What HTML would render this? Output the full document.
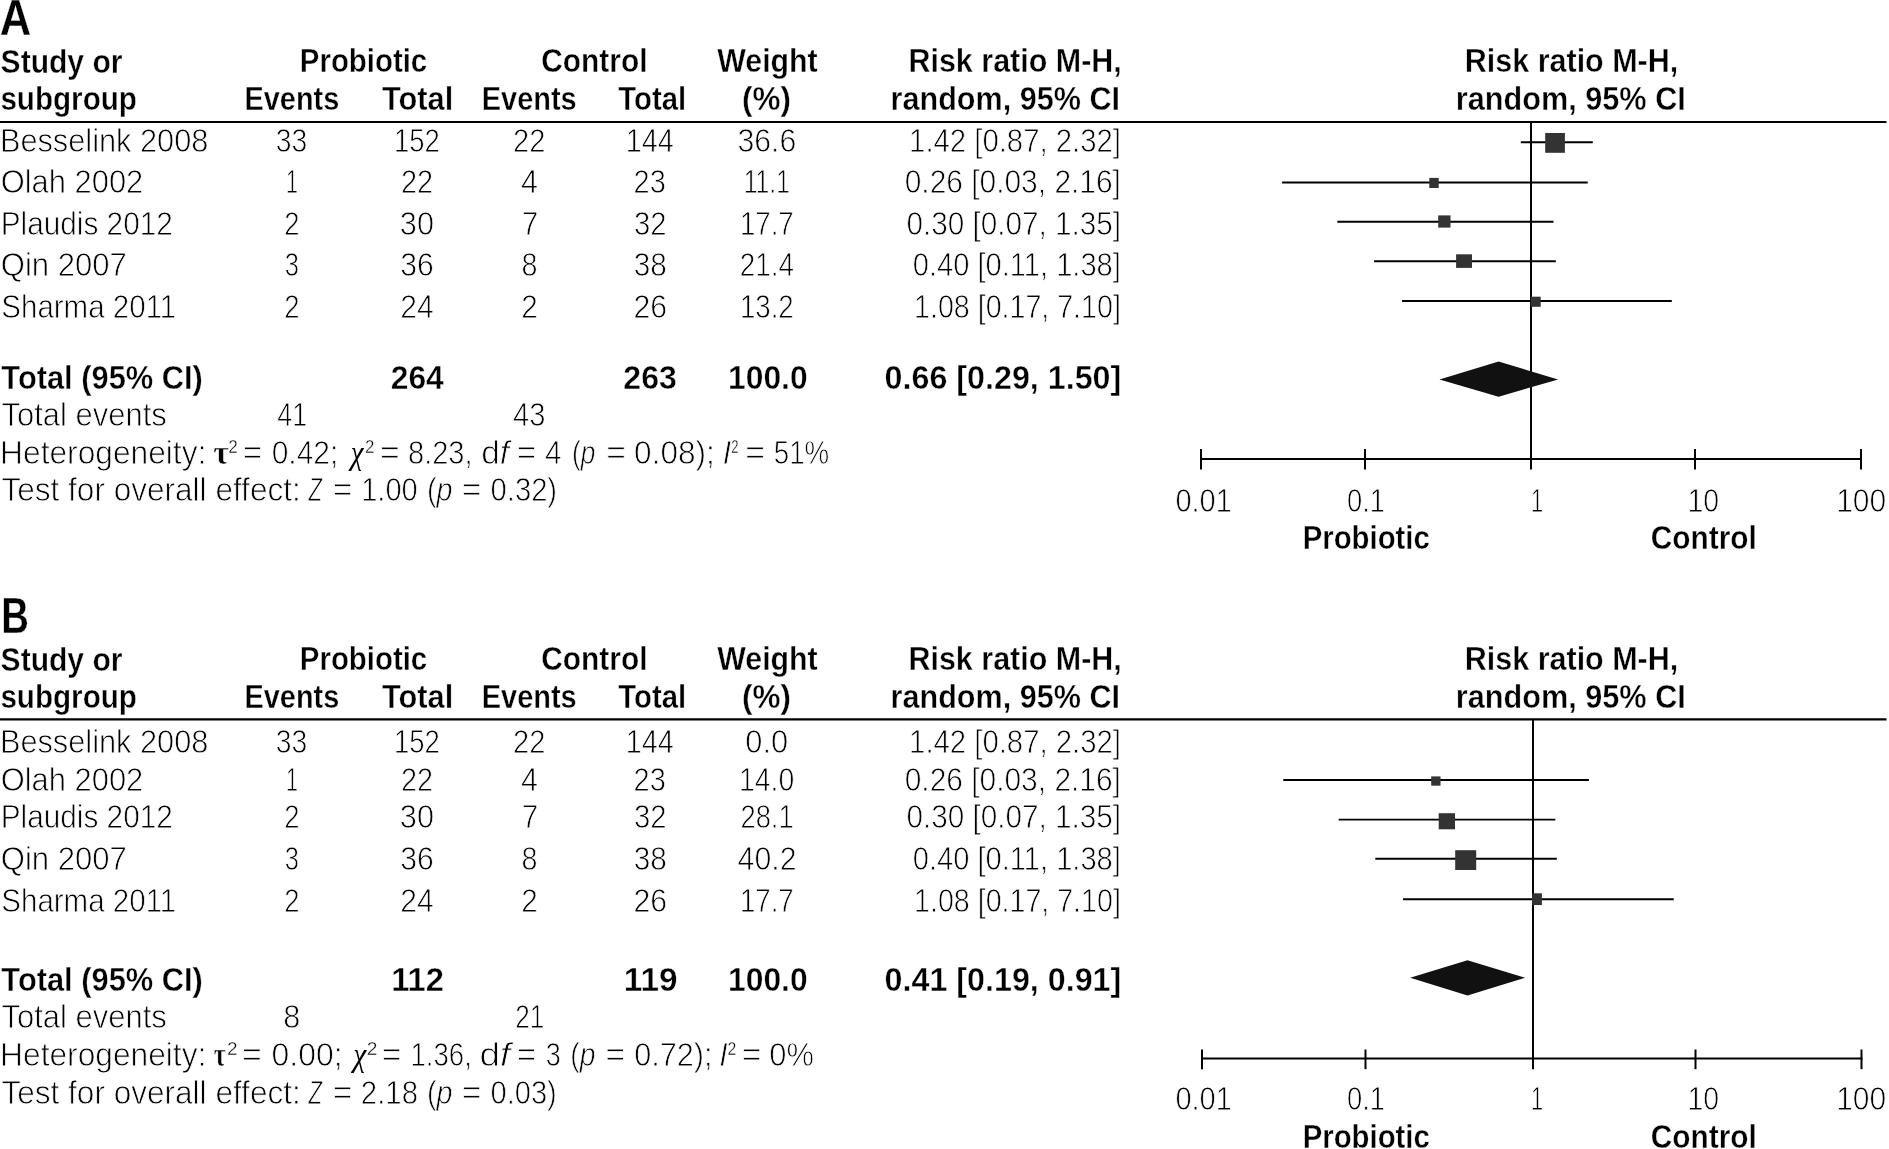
<!DOCTYPE html>
<html lang="en"><head><meta charset="utf-8"><title>Forest plot: Probiotic vs Control</title>
<style>
html,body{margin:0;padding:0;background:#fff;}
body{width:1889px;height:1149px;overflow:hidden;}
svg{display:block;will-change:transform;}
text{fill:#000;stroke:#fff;paint-order:normal;}
.r,.i{stroke-width:0.8px;}
.b{stroke-width:0.4px;}
.sb{stroke-width:0.5px;}
.si{stroke-width:0;}
.big{font-family:"Liberation Sans",Arial,sans-serif;font-weight:700;stroke-width:0.3px;}
.sup{font-family:"Liberation Sans",Arial,sans-serif;font-weight:400;stroke-width:0.35px;}
.r{font-family:"Liberation Sans",Arial,sans-serif;font-weight:400;}
.b{font-family:"Liberation Sans",Arial,sans-serif;font-weight:700;}
.i{font-family:"Liberation Sans",Arial,sans-serif;font-weight:400;font-style:italic;}
.sb{font-family:"Liberation Serif","Times New Roman",serif;font-weight:700;}
.si{font-family:"Liberation Serif","Times New Roman",serif;font-weight:400;font-style:italic;}
</style></head>
<body>
<svg width="1889" height="1149" viewBox="0 0 1889 1149">
<rect width="1889" height="1149" fill="#fff"/>
<line x1="0" y1="122" x2="1886.5" y2="122" stroke="#000" stroke-width="2.1" stroke-linecap="butt"/>
<line x1="1531" y1="123" x2="1531" y2="469.5" stroke="#000" stroke-width="2" stroke-linecap="butt"/>
<line x1="1200" y1="459" x2="1862" y2="459" stroke="#000" stroke-width="2" stroke-linecap="butt"/>
<line x1="1201" y1="449" x2="1201" y2="469.5" stroke="#000" stroke-width="2" stroke-linecap="butt"/>
<line x1="1365" y1="449" x2="1365" y2="469.5" stroke="#000" stroke-width="2" stroke-linecap="butt"/>
<line x1="1695" y1="449" x2="1695" y2="469.5" stroke="#000" stroke-width="2" stroke-linecap="butt"/>
<line x1="1861" y1="449" x2="1861" y2="469.5" stroke="#000" stroke-width="2" stroke-linecap="butt"/>
<line x1="1520.8" y1="142.2" x2="1592.8" y2="142.2" stroke="#000" stroke-width="1.9" stroke-linecap="butt"/>
<rect x="1545.2" y="133.0" width="19.7" height="19.8" fill="#333"/>
<line x1="1282.1" y1="182.5" x2="1587.7" y2="182.5" stroke="#000" stroke-width="1.9" stroke-linecap="butt"/>
<rect x="1429.3" y="177.9" width="9.4" height="10.1" fill="#333"/>
<line x1="1337.3" y1="221.7" x2="1553.5" y2="221.7" stroke="#000" stroke-width="1.9" stroke-linecap="butt"/>
<rect x="1438.2" y="215.4" width="12.3" height="12.2" fill="#333"/>
<line x1="1374.1" y1="261.3" x2="1555.8" y2="261.3" stroke="#000" stroke-width="1.9" stroke-linecap="butt"/>
<rect x="1456.1" y="254.3" width="15.9" height="13.6" fill="#333"/>
<line x1="1402.1" y1="301.0" x2="1671.8" y2="301.0" stroke="#000" stroke-width="1.9" stroke-linecap="butt"/>
<rect x="1530.7" y="296.7" width="10.0" height="10.1" fill="#333"/>
<polygon points="1439.5,379.4 1498.6,361.6 1558.1,379.4 1498.6,396.75" fill="#111"/>
<line x1="0" y1="719.3" x2="1886.5" y2="719.3" stroke="#000" stroke-width="2.3" stroke-linecap="butt"/>
<line x1="1533" y1="720" x2="1533" y2="1069.2" stroke="#000" stroke-width="2" stroke-linecap="butt"/>
<line x1="1201" y1="1058.5" x2="1862.5" y2="1058.5" stroke="#000" stroke-width="2" stroke-linecap="butt"/>
<line x1="1202" y1="1049.5" x2="1202" y2="1069.2" stroke="#000" stroke-width="2" stroke-linecap="butt"/>
<line x1="1365.5" y1="1049.5" x2="1365.5" y2="1069.2" stroke="#000" stroke-width="2" stroke-linecap="butt"/>
<line x1="1695.5" y1="1049.5" x2="1695.5" y2="1069.2" stroke="#000" stroke-width="2" stroke-linecap="butt"/>
<line x1="1861.5" y1="1049.5" x2="1861.5" y2="1069.2" stroke="#000" stroke-width="2" stroke-linecap="butt"/>
<line x1="1283.3" y1="780.0" x2="1588.9" y2="780.0" stroke="#000" stroke-width="1.9" stroke-linecap="butt"/>
<rect x="1431.2" y="776.4" width="9.3" height="9.3" fill="#333"/>
<line x1="1338.7" y1="819.6" x2="1555.4" y2="819.6" stroke="#000" stroke-width="1.9" stroke-linecap="butt"/>
<rect x="1438.7" y="813.2" width="16.3" height="16.1" fill="#333"/>
<line x1="1375.3" y1="858.7" x2="1556.8" y2="858.7" stroke="#000" stroke-width="1.9" stroke-linecap="butt"/>
<rect x="1455.2" y="850.2" width="21.0" height="19.8" fill="#333"/>
<line x1="1403" y1="899.3" x2="1673.7" y2="899.3" stroke="#000" stroke-width="1.9" stroke-linecap="butt"/>
<rect x="1532.1" y="893.3" width="9.8" height="11.7" fill="#333"/>
<polygon points="1410.2,977.7 1467.5,960.2 1525.1,977.7 1467.5,995.5" fill="#111"/>
<text class="big" font-size="50.8" transform="translate(-0.37 35.00) scale(0.8588 1)">A</text>
<text class="b" font-size="33.6" transform="translate(0.61 72.50) scale(0.8942 1)">Study or</text>
<text class="b" font-size="33.6" transform="translate(0.40 109.70) scale(0.8814 1)">subgroup</text>
<text class="b" font-size="33.6" transform="translate(299.83 72.30) scale(0.8752 1)">Probiotic</text>
<text class="b" font-size="33.6" transform="translate(541.27 72.30) scale(0.8892 1)">Control</text>
<text class="b" font-size="33.6" transform="translate(717.30 72.30) scale(0.9018 1)">Weight</text>
<text class="b" font-size="33.6" transform="translate(908.46 72.30) scale(0.9072 1)">Risk ratio M-H,</text>
<text class="b" font-size="33.6" transform="translate(1464.76 72.30) scale(0.9080 1)">Risk ratio M-H,</text>
<text class="b" font-size="33.6" transform="translate(244.57 109.70) scale(0.8592 1)">Events</text>
<text class="b" font-size="33.6" transform="translate(382.04 109.70) scale(0.9164 1)">Total</text>
<text class="b" font-size="33.6" transform="translate(481.76 109.70) scale(0.8610 1)">Events</text>
<text class="b" font-size="33.6" transform="translate(618.36 109.70) scale(0.8722 1)">Total</text>
<text class="b" font-size="33.6" transform="translate(742.06 109.70) scale(0.9354 1)">(%)</text>
<text class="b" font-size="33.6" transform="translate(890.55 109.70) scale(0.9107 1)">random, 95% CI</text>
<text class="b" font-size="33.6" transform="translate(1455.75 109.70) scale(0.9131 1)">random, 95% CI</text>
<text class="r" font-size="33.5" transform="translate(-0.12 151.90) scale(0.9179 1)">Besselink 2008</text>
<text class="r" font-size="33.5" transform="translate(275.85 151.90) scale(0.8435 1)">33</text>
<text class="r" font-size="33.5" transform="translate(393.95 151.90) scale(0.8193 1)">152</text>
<text class="r" font-size="33.5" transform="translate(513.08 151.90) scale(0.8681 1)">22</text>
<text class="r" font-size="33.5" transform="translate(625.86 151.90) scale(0.8571 1)">144</text>
<text class="r" font-size="33.5" transform="translate(737.47 151.90) scale(0.9024 1)">36.6</text>
<text class="r" font-size="33.5" transform="translate(909.11 151.90) scale(0.8750 1)">1.42 [0.87, 2.32]</text>
<text class="r" font-size="33.5" transform="translate(0.72 192.90) scale(0.9221 1)">Olah 2002</text>
<text class="r" font-size="33.5" transform="translate(286.10 192.90) scale(0.6414 1)">1</text>
<text class="r" font-size="33.5" transform="translate(400.89 192.90) scale(0.8622 1)">22</text>
<text class="r" font-size="33.5" transform="translate(521.12 192.90) scale(0.9059 1)">4</text>
<text class="r" font-size="33.5" transform="translate(633.59 192.90) scale(0.8647 1)">23</text>
<text class="r" font-size="33.5" transform="translate(743.65 192.90) scale(0.7385 1)">11.1</text>
<text class="r" font-size="33.5" transform="translate(904.68 192.90) scale(0.8935 1)">0.26 [0.03, 2.16]</text>
<text class="r" font-size="33.5" transform="translate(0.65 234.50) scale(0.8893 1)">Plaudis 2012</text>
<text class="r" font-size="33.5" transform="translate(284.37 234.50) scale(0.8197 1)">2</text>
<text class="r" font-size="33.5" transform="translate(399.86 234.50) scale(0.9151 1)">30</text>
<text class="r" font-size="33.5" transform="translate(521.65 234.50) scale(0.8852 1)">7</text>
<text class="r" font-size="33.5" transform="translate(634.01 234.50) scale(0.8730 1)">32</text>
<text class="r" font-size="33.5" transform="translate(739.94 234.50) scale(0.8246 1)">17.7</text>
<text class="r" font-size="33.5" transform="translate(906.39 234.50) scale(0.8864 1)">0.30 [0.07, 1.35]</text>
<text class="r" font-size="33.5" transform="translate(0.71 276.40) scale(0.9281 1)">Qin 2007</text>
<text class="r" font-size="33.5" transform="translate(284.85 276.40) scale(0.7625 1)">3</text>
<text class="r" font-size="33.5" transform="translate(400.18 276.40) scale(0.8986 1)">36</text>
<text class="r" font-size="33.5" transform="translate(521.41 276.40) scale(0.8571 1)">8</text>
<text class="r" font-size="33.5" transform="translate(633.69 276.40) scale(0.8870 1)">38</text>
<text class="r" font-size="33.5" transform="translate(739.85 276.40) scale(0.8304 1)">21.4</text>
<text class="r" font-size="33.5" transform="translate(912.81 276.40) scale(0.8686 1)">0.40 [0.11, 1.38]</text>
<text class="r" font-size="33.5" transform="translate(1.28 317.80) scale(0.8813 1)">Sharma 2011</text>
<text class="r" font-size="33.5" transform="translate(284.37 317.80) scale(0.8197 1)">2</text>
<text class="r" font-size="33.5" transform="translate(400.33 317.80) scale(0.8957 1)">24</text>
<text class="r" font-size="33.5" transform="translate(521.15 317.80) scale(0.8852 1)">2</text>
<text class="r" font-size="33.5" transform="translate(633.52 317.80) scale(0.9029 1)">26</text>
<text class="r" font-size="33.5" transform="translate(739.94 317.80) scale(0.8246 1)">13.2</text>
<text class="r" font-size="33.5" transform="translate(914.06 317.80) scale(0.8544 1)">1.08 [0.17, 7.10]</text>
<text class="b" font-size="33.6" transform="translate(1.34 388.80) scale(0.9178 1)">Total (95% CI)</text>
<text class="b" font-size="33.6" transform="translate(390.72 388.80) scale(0.9468 1)">264</text>
<text class="b" font-size="33.6" transform="translate(623.31 388.80) scale(0.9551 1)">263</text>
<text class="b" font-size="33.6" transform="translate(728.01 388.80) scale(0.9474 1)">100.0</text>
<text class="b" font-size="33.6" transform="translate(884.60 388.80) scale(0.9603 1)">0.66 [0.29, 1.50]</text>
<text class="r" font-size="33.5" transform="translate(1.51 426.10) scale(0.9245 1)">Total events</text>
<text class="r" font-size="33.5" transform="translate(277.30 426.10) scale(0.8000 1)">41</text>
<text class="r" font-size="33.5" transform="translate(513.05 426.10) scale(0.8686 1)">43</text>
<text class="r" font-size="33.5" transform="translate(0.10 463.80) scale(0.9467 1)">Heterogeneity:</text>
<text class="sb" font-size="33.5" transform="translate(213.24 463.80) scale(1.0175 1)">τ</text>
<text class="sup" font-size="18" transform="translate(228.15 453.00) scale(0.9500 1)">2</text>
<text class="r" font-size="33.5" transform="translate(243.10 463.80) scale(0.9723 1)">=</text>
<text class="r" font-size="33.5" transform="translate(271.68 463.80) scale(0.8954 1)">0.42;</text>
<text class="si" font-size="33.5" transform="translate(350.87 463.80) scale(0.8603 1)">χ</text>
<text class="sup" font-size="18" transform="translate(365.06 453.00) scale(0.9375 1)">2</text>
<text class="r" font-size="33.5" transform="translate(379.94 463.80) scale(1.0031 1)">=</text>
<text class="r" font-size="33.5" transform="translate(408.00 463.80) scale(0.8657 1)">8.23,</text>
<text class="r" font-size="33.5" transform="translate(481.21 463.80) scale(0.9949 1)">d<tspan font-style="italic">f</tspan></text>
<text class="r" font-size="33.5" transform="translate(517.10 463.80) scale(0.9723 1)">=</text>
<text class="r" font-size="33.5" transform="translate(544.93 463.80) scale(0.8882 1)">4</text>
<text class="r" font-size="33.5" transform="translate(571.93 463.80) scale(0.7850 1)">(<tspan font-style="italic">p</tspan></text>
<text class="r" font-size="33.5" transform="translate(606.24 463.80) scale(1.0031 1)">=</text>
<text class="r" font-size="33.5" transform="translate(634.12 463.80) scale(0.9423 1)">0.08);</text>
<text class="i" font-size="33.5" transform="translate(722.67 463.80) scale(0.9032 1)">I</text>
<text class="sup" font-size="18" transform="translate(731.27 453.00) scale(0.7250 1)">2</text>
<text class="r" font-size="33.5" transform="translate(745.23 463.80) scale(1.0092 1)">=</text>
<text class="r" font-size="33.5" transform="translate(773.76 463.80) scale(0.8265 1)">51%</text>
<text class="r" font-size="33.5" transform="translate(1.49 501.20) scale(0.9420 1)">Test for overall effect:</text>
<text class="i" font-size="33.5" transform="translate(308.59 501.20) scale(0.6591 1)">Z</text>
<text class="r" font-size="33.5" transform="translate(332.74 501.20) scale(1.0031 1)">=</text>
<text class="r" font-size="33.5" transform="translate(361.23 501.20) scale(0.8667 1)">1.00</text>
<text class="r" font-size="33.5" transform="translate(426.88 501.20) scale(0.8598 1)">(<tspan font-style="italic">p</tspan></text>
<text class="r" font-size="33.5" transform="translate(461.64 501.20) scale(1.0031 1)">=</text>
<text class="r" font-size="33.5" transform="translate(490.51 501.20) scale(0.8726 1)">0.32)</text>
<text class="r" font-size="33.3" transform="translate(1175.41 511.50) scale(0.8710 1)">0.01</text>
<text class="r" font-size="33.3" transform="translate(1346.97 511.50) scale(0.8230 1)">0.1</text>
<text class="r" font-size="33.3" transform="translate(1531.06 511.50) scale(0.6552 1)">1</text>
<text class="r" font-size="33.3" transform="translate(1687.56 511.50) scale(0.8541 1)">10</text>
<text class="r" font-size="33.3" transform="translate(1836.15 511.50) scale(0.9005 1)">100</text>
<text class="b" font-size="33.6" transform="translate(1302.63 549.20) scale(0.8738 1)">Probiotic</text>
<text class="b" font-size="33.6" transform="translate(1650.67 549.20) scale(0.8892 1)">Control</text>
<text class="big" font-size="50.8" transform="translate(1.36 632.90) scale(0.7545 1)">B</text>
<text class="b" font-size="33.6" transform="translate(0.61 670.50) scale(0.8942 1)">Study or</text>
<text class="b" font-size="33.6" transform="translate(0.40 707.70) scale(0.8814 1)">subgroup</text>
<text class="b" font-size="33.6" transform="translate(299.83 670.30) scale(0.8752 1)">Probiotic</text>
<text class="b" font-size="33.6" transform="translate(541.27 670.30) scale(0.8892 1)">Control</text>
<text class="b" font-size="33.6" transform="translate(717.30 670.30) scale(0.9018 1)">Weight</text>
<text class="b" font-size="33.6" transform="translate(908.46 670.30) scale(0.9072 1)">Risk ratio M-H,</text>
<text class="b" font-size="33.6" transform="translate(1464.76 670.30) scale(0.9080 1)">Risk ratio M-H,</text>
<text class="b" font-size="33.6" transform="translate(244.57 707.70) scale(0.8592 1)">Events</text>
<text class="b" font-size="33.6" transform="translate(382.04 707.70) scale(0.9164 1)">Total</text>
<text class="b" font-size="33.6" transform="translate(481.76 707.70) scale(0.8610 1)">Events</text>
<text class="b" font-size="33.6" transform="translate(618.36 707.70) scale(0.8722 1)">Total</text>
<text class="b" font-size="33.6" transform="translate(742.06 707.70) scale(0.9354 1)">(%)</text>
<text class="b" font-size="33.6" transform="translate(890.55 707.70) scale(0.9107 1)">random, 95% CI</text>
<text class="b" font-size="33.6" transform="translate(1455.75 707.70) scale(0.9131 1)">random, 95% CI</text>
<text class="r" font-size="33.5" transform="translate(-0.12 753.40) scale(0.9179 1)">Besselink 2008</text>
<text class="r" font-size="33.5" transform="translate(275.85 753.40) scale(0.8435 1)">33</text>
<text class="r" font-size="33.5" transform="translate(393.95 753.40) scale(0.8193 1)">152</text>
<text class="r" font-size="33.5" transform="translate(513.08 753.40) scale(0.8681 1)">22</text>
<text class="r" font-size="33.5" transform="translate(625.86 753.40) scale(0.8571 1)">144</text>
<text class="r" font-size="33.5" transform="translate(745.25 753.40) scale(0.9205 1)">0.0</text>
<text class="r" font-size="33.5" transform="translate(909.11 753.40) scale(0.8750 1)">1.42 [0.87, 2.32]</text>
<text class="r" font-size="33.5" transform="translate(0.72 791.10) scale(0.9221 1)">Olah 2002</text>
<text class="r" font-size="33.5" transform="translate(286.10 791.10) scale(0.6414 1)">1</text>
<text class="r" font-size="33.5" transform="translate(400.89 791.10) scale(0.8622 1)">22</text>
<text class="r" font-size="33.5" transform="translate(521.12 791.10) scale(0.9059 1)">4</text>
<text class="r" font-size="33.5" transform="translate(633.59 791.10) scale(0.8647 1)">23</text>
<text class="r" font-size="33.5" transform="translate(738.88 791.10) scale(0.8488 1)">14.0</text>
<text class="r" font-size="33.5" transform="translate(904.68 791.10) scale(0.8935 1)">0.26 [0.03, 2.16]</text>
<text class="r" font-size="33.5" transform="translate(0.65 828.30) scale(0.8893 1)">Plaudis 2012</text>
<text class="r" font-size="33.5" transform="translate(284.37 828.30) scale(0.8197 1)">2</text>
<text class="r" font-size="33.5" transform="translate(399.86 828.30) scale(0.9151 1)">30</text>
<text class="r" font-size="33.5" transform="translate(521.65 828.30) scale(0.8852 1)">7</text>
<text class="r" font-size="33.5" transform="translate(634.01 828.30) scale(0.8730 1)">32</text>
<text class="r" font-size="33.5" transform="translate(740.47 828.30) scale(0.8162 1)">28.1</text>
<text class="r" font-size="33.5" transform="translate(906.39 828.30) scale(0.8864 1)">0.30 [0.07, 1.35]</text>
<text class="r" font-size="33.5" transform="translate(0.71 870.00) scale(0.9281 1)">Qin 2007</text>
<text class="r" font-size="33.5" transform="translate(284.85 870.00) scale(0.7625 1)">3</text>
<text class="r" font-size="33.5" transform="translate(400.18 870.00) scale(0.8986 1)">36</text>
<text class="r" font-size="33.5" transform="translate(521.41 870.00) scale(0.8571 1)">8</text>
<text class="r" font-size="33.5" transform="translate(633.69 870.00) scale(0.8870 1)">38</text>
<text class="r" font-size="33.5" transform="translate(737.62 870.00) scale(0.9036 1)">40.2</text>
<text class="r" font-size="33.5" transform="translate(912.81 870.00) scale(0.8686 1)">0.40 [0.11, 1.38]</text>
<text class="r" font-size="33.5" transform="translate(1.28 911.80) scale(0.8813 1)">Sharma 2011</text>
<text class="r" font-size="33.5" transform="translate(284.37 911.80) scale(0.8197 1)">2</text>
<text class="r" font-size="33.5" transform="translate(400.33 911.80) scale(0.8957 1)">24</text>
<text class="r" font-size="33.5" transform="translate(521.15 911.80) scale(0.8852 1)">2</text>
<text class="r" font-size="33.5" transform="translate(633.52 911.80) scale(0.9029 1)">26</text>
<text class="r" font-size="33.5" transform="translate(739.94 911.80) scale(0.8246 1)">17.7</text>
<text class="r" font-size="33.5" transform="translate(914.06 911.80) scale(0.8544 1)">1.08 [0.17, 7.10]</text>
<text class="b" font-size="33.6" transform="translate(1.34 991.30) scale(0.9178 1)">Total (95% CI)</text>
<text class="b" font-size="33.6" transform="translate(391.15 991.30) scale(0.9754 1)">112</text>
<text class="b" font-size="33.6" transform="translate(623.72 991.30) scale(0.9922 1)">119</text>
<text class="b" font-size="33.6" transform="translate(728.01 991.30) scale(0.9474 1)">100.0</text>
<text class="b" font-size="33.6" transform="translate(884.60 991.30) scale(0.9603 1)">0.41 [0.19, 0.91]</text>
<text class="r" font-size="33.5" transform="translate(1.51 1028.30) scale(0.9245 1)">Total events</text>
<text class="r" font-size="33.5" transform="translate(283.23 1028.30) scale(0.9143 1)">8</text>
<text class="r" font-size="33.5" transform="translate(515.24 1028.30) scale(0.7793 1)">21</text>
<text class="r" font-size="33.5" transform="translate(0.10 1066.10) scale(0.9467 1)">Heterogeneity:</text>
<text class="sb" font-size="33.5" transform="translate(213.82 1066.10) scale(0.7719 1)">τ</text>
<text class="sup" font-size="18" transform="translate(226.95 1055.30) scale(1.0500 1)">2</text>
<text class="r" font-size="33.5" transform="translate(241.93 1066.10) scale(1.0092 1)">=</text>
<text class="r" font-size="33.5" transform="translate(271.61 1066.10) scale(0.9537 1)">0.00;</text>
<text class="si" font-size="33.5" transform="translate(353.23 1066.10) scale(0.8822 1)">χ</text>
<text class="sup" font-size="18" transform="translate(366.64 1055.30) scale(1.0625 1)">2</text>
<text class="r" font-size="33.5" transform="translate(382.07 1066.10) scale(0.9908 1)">=</text>
<text class="r" font-size="33.5" transform="translate(410.54 1066.10) scale(0.8232 1)">1.36,</text>
<text class="r" font-size="33.5" transform="translate(479.55 1066.10) scale(1.1009 1)">d<tspan font-style="italic">f</tspan></text>
<text class="r" font-size="33.5" transform="translate(517.10 1066.10) scale(0.9723 1)">=</text>
<text class="r" font-size="33.5" transform="translate(545.69 1066.10) scale(0.8062 1)">3</text>
<text class="r" font-size="33.5" transform="translate(570.21 1066.10) scale(0.8449 1)">(<tspan font-style="italic">p</tspan></text>
<text class="r" font-size="33.5" transform="translate(605.54 1066.10) scale(1.0031 1)">=</text>
<text class="r" font-size="33.5" transform="translate(634.16 1066.10) scale(0.9141 1)">0.72);</text>
<text class="i" font-size="33.5" transform="translate(719.17 1066.10) scale(0.9032 1)">I</text>
<text class="sup" font-size="18" transform="translate(727.52 1055.30) scale(0.8750 1)">2</text>
<text class="r" font-size="33.5" transform="translate(741.84 1066.10) scale(1.0031 1)">=</text>
<text class="r" font-size="33.5" transform="translate(769.25 1066.10) scale(0.9217 1)">0%</text>
<text class="r" font-size="33.5" transform="translate(1.49 1103.50) scale(0.9420 1)">Test for overall effect:</text>
<text class="i" font-size="33.5" transform="translate(308.59 1103.50) scale(0.6591 1)">Z</text>
<text class="r" font-size="33.5" transform="translate(332.74 1103.50) scale(1.0031 1)">=</text>
<text class="r" font-size="33.5" transform="translate(360.87 1103.50) scale(0.8758 1)">2.18</text>
<text class="r" font-size="33.5" transform="translate(426.88 1103.50) scale(0.8598 1)">(<tspan font-style="italic">p</tspan></text>
<text class="r" font-size="33.5" transform="translate(461.64 1103.50) scale(1.0031 1)">=</text>
<text class="r" font-size="33.5" transform="translate(490.52 1103.50) scale(0.8671 1)">0.03)</text>
<text class="r" font-size="33.3" transform="translate(1175.41 1110.40) scale(0.8710 1)">0.01</text>
<text class="r" font-size="33.3" transform="translate(1346.97 1110.40) scale(0.8230 1)">0.1</text>
<text class="r" font-size="33.3" transform="translate(1531.06 1110.40) scale(0.6552 1)">1</text>
<text class="r" font-size="33.3" transform="translate(1687.56 1110.40) scale(0.8541 1)">10</text>
<text class="r" font-size="33.3" transform="translate(1836.15 1110.40) scale(0.9005 1)">100</text>
<text class="b" font-size="33.6" transform="translate(1302.63 1148.10) scale(0.8738 1)">Probiotic</text>
<text class="b" font-size="33.6" transform="translate(1650.67 1148.10) scale(0.8892 1)">Control</text>
</svg>
</body></html>
